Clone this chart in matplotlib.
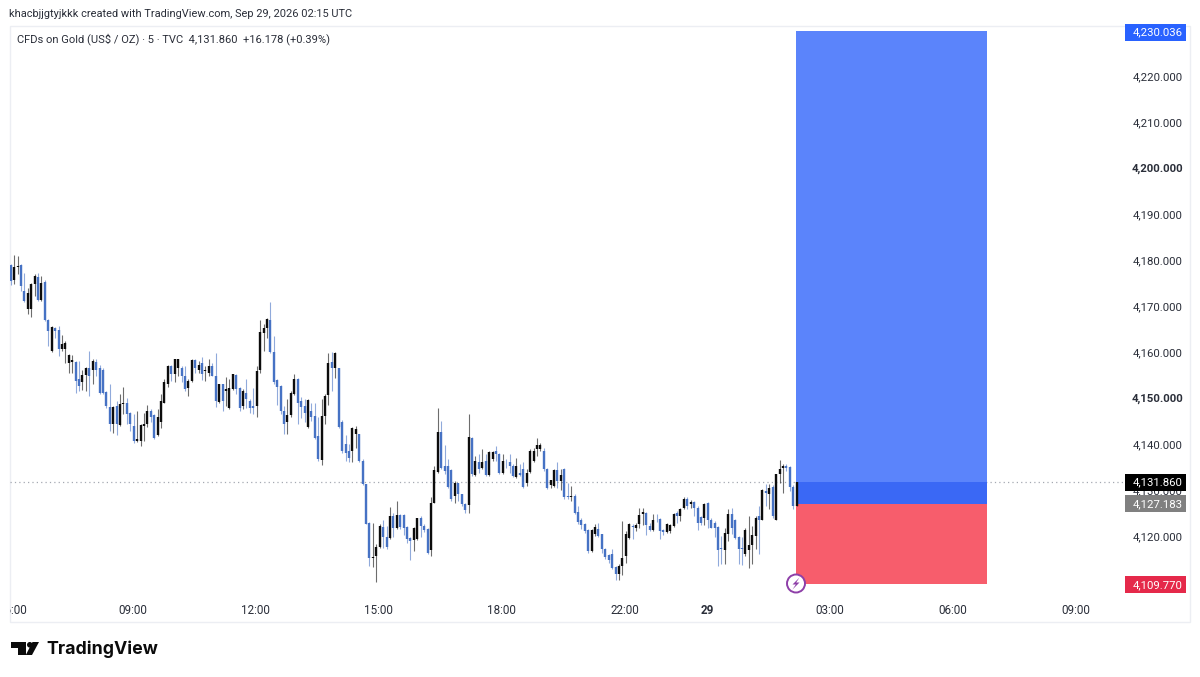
import matplotlib
matplotlib.use("Agg")
import matplotlib.pyplot as plt
from matplotlib.patches import Circle, Polygon, Rectangle
from matplotlib.transforms import blended_transform_factory

plt.rcParams['font.family'] = ['Roboto', 'DejaVu Sans']

base_price = 4000
tops = [179.1,178.6,178.9,179.1,173.5,173.1,175.0,176.7,176.6,175.3,175.5,167.2,165.7,165.4,165.0,162.0,162.2,159.6,158.4,158.1,
        154.3,155.2,156.7,156.8,158.3,158.1,156.8,156.4,151.6,148.3,148.3,148.5,149.0,149.2,149.2,147.0,144.1,141.2,144.3,144.6,
        147.4,147.4,146.5,146.0,149.6,153.8,157.2,157.2,158.6,158.6,156.8,155.0,153.9,158.4,158.4,157.5,157.9,156.4,157.2,157.2,
        155.0,153.2,153.2,152.1,152.3,155.4,155.2,152.3,151.7,151.4,149.6,148.5,156.1,164.6,165.5,167.3,167.1,160.3,154.1,152.8,
        147.5,146.5,151.4,154.3,154.3,149.6,148.5,149.7,147.4,146.3,142.0,146.3,150.7,157.9,158.1,160.1,156.8,145.1,140.2,138.7,
        143.6,143.4,142.3,136.5,131.6,123.1,115.7,117.8,122.4,122.2,120.0,124.6,124.6,124.8,124.8,124.8,122.2,119.7,122.0,124.1,
        124.2,122.5,121.8,127.5,134.5,142.9,142.9,135.4,135.4,134.5,131.8,131.7,129.3,127.2,141.7,141.6,136.5,136.4,136.4,136.5,
        138.5,138.5,138.7,138.1,136.5,136.4,136.2,135.4,135.4,134.0,134.7,134.0,138.7,138.8,140.0,140.0,138.8,134.7,132.3,134.6,
        134.6,133.5,134.7,128.9,128.9,128.9,125.5,123.6,122.9,121.5,121.5,122.2,121.7,120.6,117.3,116.1,116.2,113.5,113.7,115.4,
        120.7,122.8,122.5,122.6,124.8,125.4,125.2,122.4,123.6,123.8,123.9,121.5,122.9,122.6,125.1,125.3,126.0,128.2,128.2,127.7,
        127.7,126.2,124.3,127.1,127.5,123.8,123.1,122.2,117.7,120.9,125.1,125.1,123.8,120.0,117.7,121.5,118.3,120.4,124.2,124.6,
        130.2,129.9,130.6,130.9,133.6,134.7,135.4,135.4,135.2,130.9,131.9]
bottoms = [175.7,175.8,178.7,174.6,171.2,169.5,169.5,175.0,171.5,171.5,167.1,164.8,160.4,164.8,160.8,160.8,160.8,157.9,158.1,153.9,
           152.8,153.6,155.2,155.0,156.4,156.4,151.2,151.2,148.5,144.6,144.6,144.5,144.3,148.9,146.7,144.5,140.9,140.9,140.9,144.1,
           144.5,146.0,141.6,142.2,144.9,149.2,153.2,155.5,155.4,156.8,155.0,152.1,152.3,153.9,156.8,156.4,155.4,156.1,155.7,155.0,
           149.6,149.4,149.6,151.7,148.0,152.1,152.1,148.1,148.5,150.0,148.1,148.1,148.5,156.2,164.4,165.4,160.2,153.8,152.6,147.5,
           144.6,144.9,146.5,151.0,149.2,148.3,147.0,143.9,146.1,141.6,136.9,136.7,146.3,150.9,156.7,156.7,143.9,138.7,138.3,137.2,
           138.6,142.3,136.5,131.6,122.9,115.4,115.4,115.9,117.8,120.0,117.8,119.7,121.9,121.9,122.2,122.0,119.5,119.1,119.3,119.5,
           122.4,121.5,116.6,117.1,127.5,134.2,135.1,134.4,130.9,128.2,128.9,129.3,127.1,125.8,127.0,133.6,133.5,134.7,135.1,133.5,
           133.5,136.9,138.0,134.0,134.0,136.2,135.4,133.3,133.0,133.5,130.9,131.8,134.2,136.5,139.1,139.1,134.7,130.7,131.3,131.1,
           132.2,132.2,128.6,128.6,128.6,125.3,123.3,122.6,121.3,117.0,117.0,120.6,120.2,117.3,115.7,114.9,113.2,111.9,112.0,113.7,
           115.9,119.7,122.2,121.9,122.8,124.9,122.6,121.5,121.5,123.6,121.3,121.1,121.0,121.3,122.4,124.6,124.6,126.2,126.7,127.1,
           126.4,123.1,123.1,124.2,123.8,122.0,121.9,117.1,117.3,117.1,120.7,121.9,119.7,117.5,117.3,116.2,117.1,118.3,120.2,123.8,
           123.8,129.6,129.4,124.6,123.8,133.6,135.1,135.1,130.9,126.7,126.7]
highs = [179.3,181.3,181.1,179.4,177.5,174.2,175.3,177.1,177.3,176.7,175.8,167.3,165.9,165.7,165.9,164.0,162.6,159.7,159.6,158.3,
         158.3,156.4,157.0,160.4,158.6,158.8,157.4,156.7,151.7,153.2,148.5,149.6,151.0,152.7,150.3,147.2,146.7,147.4,144.5,147.0,
         148.8,147.8,146.8,147.8,151.0,154.3,157.5,157.5,158.8,158.8,157.2,157.2,154.3,158.6,158.8,158.3,159.1,157.2,158.6,157.9,
         160.1,153.3,153.3,154.8,154.3,155.5,155.4,152.6,152.1,154.3,150.0,152.5,157.2,167.1,166.2,167.7,171.1,163.7,154.3,153.0,
         148.5,149.9,151.7,155.5,154.6,150.4,149.9,149.9,149.2,149.2,146.1,150.1,151.0,159.9,160.3,160.3,156.8,145.4,142.2,140.2,
         143.9,144.1,142.5,136.9,131.6,123.3,123.1,118.4,122.8,123.8,122.4,126.5,125.3,127.8,124.9,124.9,122.4,119.9,122.2,124.2,
         124.6,122.8,122.0,128.6,135.4,148.0,145.2,139.9,136.9,134.7,132.2,131.8,129.4,127.3,146.7,141.7,137.6,138.0,139.1,138.0,
         138.7,138.7,139.8,138.3,138.1,136.9,138.1,135.8,137.2,135.9,136.2,134.7,139.1,139.4,141.6,140.5,139.4,135.1,132.3,134.7,
         136.2,134.7,135.1,131.8,131.1,129.3,126.7,124.2,123.1,121.7,121.7,122.9,123.1,120.7,117.7,116.2,117.3,113.7,114.1,123.5,
         121.3,123.1,122.8,123.1,126.4,126.2,125.4,123.1,124.9,124.9,124.1,121.7,123.1,122.9,125.3,125.7,126.2,128.7,128.7,128.0,
         127.8,126.7,124.6,127.5,127.7,124.2,123.5,122.4,120.2,122.0,126.0,126.2,123.9,120.2,120.0,121.9,124.6,122.4,124.6,126.7,
         130.4,131.6,131.5,131.2,133.8,136.7,135.8,135.9,135.4,131.2,131.9]
lows = [174.7,175.0,177.1,173.5,171.0,168.4,167.8,172.4,171.2,171.3,167.0,161.5,160.3,163.3,159.3,160.4,157.9,155.7,155.7,151.4,
        151.7,151.9,151.7,150.7,153.2,155.0,151.0,151.0,148.1,143.0,142.7,142.2,144.1,146.8,144.5,143.0,140.5,140.7,139.8,140.9,
        144.0,144.9,141.2,142.0,143.8,149.1,152.6,153.9,153.6,155.0,153.6,151.7,150.7,153.6,155.7,155.7,154.1,153.9,155.0,154.9,
        148.3,149.2,147.5,148.5,147.8,151.9,151.0,147.5,147.8,148.1,147.0,146.7,146.1,155.7,160.4,163.3,160.1,153.3,148.8,146.7,
        142.5,142.5,146.1,150.9,144.5,145.9,144.9,143.8,145.2,141.2,136.5,135.6,144.5,148.8,151.7,154.6,143.8,138.3,136.5,136.2,
        136.4,139.4,136.2,131.4,122.8,113.7,113.5,110.2,117.7,117.7,117.3,119.5,120.0,121.7,121.7,120.4,118.6,114.9,117.0,119.3,
        120.0,121.0,116.4,115.9,127.3,134.0,134.7,133.6,130.6,127.8,127.5,127.8,126.7,125.3,125.3,133.3,133.3,134.0,134.7,133.3,
        133.3,136.5,136.5,133.6,133.8,135.1,134.0,133.1,132.9,133.3,130.7,131.1,134.0,136.2,137.6,138.7,134.4,130.4,130.7,130.9,
        130.6,130.2,128.2,128.2,127.8,124.9,122.9,121.7,120.9,116.6,116.7,120.2,119.9,116.6,115.2,114.4,113.0,110.6,110.6,111.7,
        114.4,119.5,119.5,121.3,121.9,122.6,120.4,121.3,121.3,123.3,119.5,120.4,120.8,120.9,122.2,123.1,123.5,126.0,126.0,126.4,
        124.6,121.5,122.6,122.6,122.0,121.9,119.9,113.7,114.1,114.2,119.1,120.6,119.5,114.2,113.9,115.9,113.2,114.1,117.3,116.4,
        123.6,126.7,126.0,124.2,123.6,131.8,129.6,134.4,130.0,126.0,126.7]
# 1 = up candle (black), 0 = down candle (blue)
up_flags = [0,1,1,0,0,1,1,1,0,1,0,0,1,0,0,1,1,1,1,0,
            0,1,1,0,1,0,0,0,0,0,1,0,1,1,0,0,0,1,1,1,
            1,0,0,1,1,1,1,0,1,1,0,0,1,1,0,1,0,1,1,0,
            0,1,0,1,1,1,0,0,1,0,0,0,1,1,1,1,0,0,0,0,
            0,1,1,1,0,0,0,1,0,0,0,1,1,1,0,1,0,0,0,0,
            1,1,0,0,0,0,1,1,1,0,0,1,0,1,0,0,0,0,1,1,
            0,0,0,1,1,1,0,0,0,0,1,0,0,0,1,0,1,0,1,0,
            1,1,0,0,1,0,0,0,1,0,0,1,1,1,1,1,0,0,1,1,
            0,1,0,0,1,0,0,0,0,0,1,1,0,0,0,0,0,0,1,1,
            1,1,0,1,1,1,0,0,1,0,0,0,1,1,1,0,1,1,0,1,
            0,0,0,1,0,0,0,0,0,1,1,0,0,0,0,1,1,1,1,0,
            1,0,1,0,1,1,1,0,0,0,1]

last_price = 4131.860
position_top = 4230.036
position_entry = 4127.183
position_stop = 4109.770
position_start = 230
position_end = 286

price_ticks = [4220, 4210, 4200, 4190, 4180, 4170, 4160, 4150, 4140, 4130, 4120]
bold_prices = [4200, 4150]
time_ticks = [0, 36, 72, 108, 144, 180, 204, 240, 276, 312]
time_labels = ["06:00", "09:00", "12:00", "15:00", "18:00", "22:00", "29", "03:00", "06:00", "09:00"]

W, H = 1200, 677
TEXT = "#2a2e39"
BLUE = "#4672c4"
FRAME = "#eceef3"

fig = plt.figure(figsize=(W / 100, H / 100), dpi=100, facecolor="white")

# overlay in screen pixels, for the frame and the logo
overlay = fig.add_axes([0, 0, 1, 1], zorder=0)
overlay.set_xlim(0, W)
overlay.set_ylim(H, 0)
overlay.axis("off")
overlay.add_patch(Rectangle((9.5, 25.5), 1180.5, 596.5, fill=False, ec=FRAME, lw=1))

# chart pane 10..1124 x 27..601
ax = fig.add_axes([10 / W, 1 - 601 / H, 1114 / W, 574 / H], zorder=2)
ax.patch.set_alpha(0)
ax.set_xlim(-0.2, 325.8)
ax.set_ylim(4106.09, 4230.87)
for spine in ax.spines.values():
    spine.set_visible(False)
ax.set_xticks([])
ax.set_yticks([])

# position tool
width = position_end - position_start
ax.add_patch(Rectangle((position_start - 0.2, last_price), width, position_top - last_price, fc="#5b84fb", ec="none", zorder=2))
ax.add_patch(Rectangle((position_start - 0.2, position_entry), width, last_price - position_entry, fc="#3a68f5", ec="none", zorder=2))
ax.add_patch(Rectangle((position_start - 0.2, position_stop), width, position_entry - position_stop, fc="#f75d6c", ec="none", zorder=2))

ax.axhline(last_price, color="#a5a9b2", lw=0.9, ls=(0, (1, 2.5)), zorder=1)

# candles
for i in range(len(tops)):
    color = "#0c0c0c" if up_flags[i] else BLUE
    ax.vlines(i, base_price + lows[i], base_price + highs[i], color=color, lw=0.8, alpha=0.6, zorder=3)
    ax.vlines(i, base_price + bottoms[i], base_price + tops[i], color=color, lw=1.7, zorder=4)

# price axis
tag_trans = blended_transform_factory(fig.transFigure, ax.transData)
for p in price_ticks:
    weight = "bold" if p in bold_prices else "normal"
    ax.text(1183 / W, p, f"{p:,.3f}", transform=tag_trans, ha="right", va="center",
            fontsize=8.2, color=TEXT, fontweight=weight, clip_on=False, zorder=5)


def price_tag(price, color, y_shift=0):
    ax.add_patch(Rectangle((1125 / W, price - 8.5 / 4.6 + y_shift), 61 / W, 17 / 4.6, transform=tag_trans,
                           fc=color, ec="none", clip_on=False, zorder=6))
    ax.text(1183 / W, price + y_shift, f"{price:,.3f}", transform=tag_trans, ha="right", va="center",
            fontsize=8.2, color="white", clip_on=False, zorder=7)


price_tag(position_top, "#2962ff", -0.4)
price_tag(position_entry, "#808080")
price_tag(position_stop, "#e5294a", -0.2)
price_tag(last_price, "#000000")

# time axis
time_trans = blended_transform_factory(ax.transData, fig.transFigure)
for pos, label in zip(time_ticks, time_labels):
    weight = "bold" if label == "29" else "normal"
    # first label is cut by the edge of the pane, so it sits a little further right
    shift = 0.5 if pos == 0 else -0.25
    t = ax.text(pos + shift, 1 - 610 / H, label, transform=time_trans, ha="center", va="center",
                fontsize=8.4, color=TEXT, fontweight=weight, clip_on=False, zorder=5)
    if pos == 0:
        t.set_clip_path(Rectangle((10, 0), W, H, transform=None))
        t.set_clip_on(True)

# header texts
fig.text(9 / W, 1 - 14 / H, "khacbjjgtyjkkk created with TradingView.com, Sep 29, 2026 02:15 UTC",
         fontsize=7.93, color=TEXT, va="center", ha="left")
fig.text(17 / W, 1 - 39 / H, "CFDs on Gold (US$ / OZ) · 5 · TVC  4,131.860  +16.178 (+0.39%)",
         fontsize=8.0, color=TEXT, va="center", ha="left", zorder=5)

# lightning marker on the time scale edge
top = fig.add_axes([0, 0, 1, 1], zorder=3)
top.set_xlim(0, W)
top.set_ylim(H, 0)
top.axis("off")
top.patch.set_alpha(0)
top.add_patch(Circle((796, 583.5), 9, fc="white", ec="#8e3fa8", lw=1.4))
top.add_patch(Polygon([(799.5, 577.5), (792.5, 584.5), (795.8, 584.5), (792.5, 589.5), (799.5, 582.5), (796.2, 582.5)],
                      fc="#8e3fa8", ec="none"))

# TradingView logo
top.add_patch(Polygon([(11, 642), (25.5, 642), (25.5, 655), (18, 655), (18, 647.5), (11, 647.5)], fc="#0b0b0b", ec="none"))
top.add_patch(Circle((29.8, 644.8), 2.8, fc="#0b0b0b", ec="none"))
top.add_patch(Polygon([(32.5, 642), (39, 642), (32, 655), (25.8, 655)], fc="#0b0b0b", ec="none"))
top.text(46, 649.5, "TradingView", fontsize=12.8, fontweight="bold", family="Inter", color="#0b0b0b", va="center", ha="left")

fig.savefig("out.png", dpi=100, facecolor="white")
